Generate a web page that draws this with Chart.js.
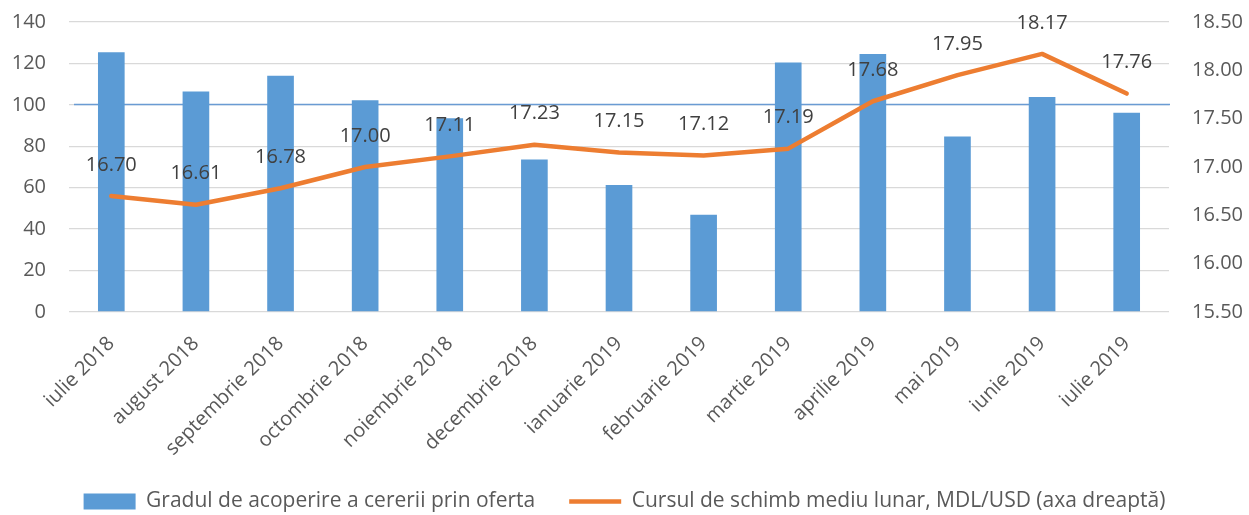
<!DOCTYPE html>
<html lang="ro">
<head>
<meta charset="UTF-8">
<title>Gradul de acoperire si cursul de schimb</title>
<script src="https://cdn.jsdelivr.net/npm/chart.js@4"></script>
<style>
html, body { margin: 0; padding: 0; background: #fff; }
#wrap { width: 1249px; height: 515px; }
</style>
</head>
<body>
<div id="wrap"><canvas id="grafic" width="1249" height="515"></canvas></div>
<script>
// date
const luni = ['iulie 2018', 'august 2018', 'septembrie 2018', 'octombrie 2018', 'noiembrie 2018',
  'decembrie 2018', 'ianuarie 2019', 'februarie 2019', 'martie 2019', 'aprilie 2019',
  'mai 2019', 'iunie 2019', 'iulie 2019'];
const gradAcoperire = [125.4, 106.4, 114.1, 102.2, 93.5, 73.6, 61.3, 47.0, 120.4, 124.6, 84.7, 103.8, 96.2];
const cursMediu = [16.70, 16.61, 16.78, 17.00, 17.11, 17.23, 17.15, 17.12, 17.19, 17.68, 17.95, 18.17, 17.76];
const ticksStanga = [0, 20, 40, 60, 80, 100, 120, 140];
const ticksDreapta = [15.5, 16.0, 16.5, 17.0, 17.5, 18.0, 18.5];
const nivelReferinta = 100.5;

const FONT = '"Open Sans", "Liberation Sans", sans-serif';
const GRI = '#595959';

// linia orizontala albastra (nivelul de 100%)
const liniaReferinta = {
  id: 'liniaReferinta',
  beforeDatasetsDraw(chart) {
    const { ctx, chartArea, scales } = chart;
    const y = Math.round(scales.y.getPixelForValue(nivelReferinta)) + 0.5;
    ctx.save();
    ctx.strokeStyle = '#6A9BD3';
    ctx.lineWidth = 1.5;
    ctx.beginPath();
    ctx.moveTo(chartArea.left + 5, y);
    ctx.lineTo(chartArea.right + 1, y);
    ctx.stroke();
    ctx.restore();
  }
};

// etichetele valorilor pe linia portocalie
const etichete = {
  id: 'etichete',
  afterDatasetsDraw(chart) {
    const { ctx } = chart;
    const meta = chart.getDatasetMeta(1);
    ctx.save();
    ctx.font = '20px ' + FONT;
    ctx.fillStyle = '#404040';
    ctx.textAlign = 'center';
    ctx.textBaseline = 'middle';
    meta.data.forEach((pt, i) => {
      ctx.fillText(cursMediu[i].toFixed(2), pt.x, pt.y - 31);
    });
    ctx.restore();
  }
};

new Chart(document.getElementById('grafic'), {
  type: 'bar',
  data: {
    labels: luni,
    datasets: [
      {
        type: 'bar',
        label: 'Gradul de acoperire a cererii prin oferta',
        data: gradAcoperire,
        backgroundColor: '#5B9BD5',
        borderWidth: 0,
        barPercentage: 0.63,
        categoryPercentage: 0.5,
        pointStyle: 'rect',
        yAxisID: 'y',
        order: 1
      },
      {
        type: 'line',
        label: 'Cursul de schimb mediu lunar, MDL/USD (axa dreaptă)',
        data: cursMediu,
        borderColor: '#ED7D31',
        backgroundColor: '#ED7D31',
        borderWidth: 4.5,
        borderCapStyle: 'round',
        borderJoinStyle: 'round',
        pointRadius: 0,
        pointStyle: 'line',
        tension: 0,
        yAxisID: 'y1',
        order: 0
      }
    ]
  },
  options: {
    responsive: false,
    animation: false,
    devicePixelRatio: 1,
    layout: { padding: { top: 22, left: 0, right: 0, bottom: -7 } },
    plugins: {
      tooltip: { enabled: false },
      legend: {
        position: 'bottom',
        labels: {
          usePointStyle: true,
          pointStyleWidth: 52,
          boxHeight: 16,
          padding: 34,
          color: GRI,
          font: { family: FONT, size: 21 },
          sort: (a, b) => a.datasetIndex - b.datasetIndex
        }
      }
    },
    scales: {
      x: {
        grid: { display: false },
        border: { display: false },
        ticks: {
          color: GRI,
          font: { family: FONT, size: 20 },
          maxRotation: 45,
          minRotation: 45,
          autoSkip: false,
          padding: 12
        },
        afterFit(s) { s.height = 145; }
      },
      y: {
        position: 'left',
        min: 0,
        max: 140,
        afterBuildTicks(s) { s.ticks = ticksStanga.map(v => ({ value: v })); },
        grid: { color: '#D9D9D9', lineWidth: 1.3, drawTicks: true, tickLength: 20, tickColor: 'rgba(0,0,0,0)' },
        border: { display: false },
        ticks: { color: GRI, font: { family: FONT, size: 20 }, padding: 3 },
        afterFit(s) { s.width = 69; }
      },
      y1: {
        position: 'right',
        min: 15.5,
        max: 18.5,
        afterBuildTicks(s) { s.ticks = ticksDreapta.map(v => ({ value: v })); },
        grid: { display: true, drawOnChartArea: false, color: 'rgba(0,0,0,0)', drawTicks: true, tickLength: 20, tickColor: 'rgba(0,0,0,0)' },
        border: { display: false },
        ticks: {
          color: GRI,
          font: { family: FONT, size: 20 },
          padding: 3,
          callback: v => Number(v).toFixed(2)
        },
        afterFit(s) { s.width = 80; }
      }
    }
  },
  plugins: [liniaReferinta, etichete]
});
</script>
</body>
</html>
